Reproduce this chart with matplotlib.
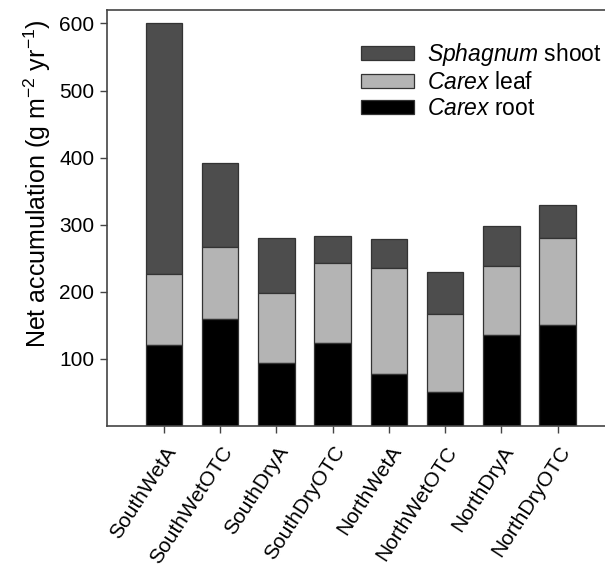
import matplotlib
matplotlib.use("Agg")
import matplotlib.pyplot as plt
import numpy as np

plt.rcParams['font.family'] = ['Liberation Sans', 'DejaVu Sans']
plt.rcParams['mathtext.fontset'] = 'custom'
plt.rcParams['mathtext.rm'] = 'Liberation Sans'
plt.rcParams['mathtext.it'] = 'Liberation Sans:italic'
plt.rcParams['mathtext.bf'] = 'Liberation Sans:bold'
plt.rcParams['axes.unicode_minus'] = False

categories = ["SouthWetA", "SouthWetOTC", "SouthDryA", "SouthDryOTC",
              "NorthWetA", "NorthWetOTC", "NorthDryA", "NorthDryOTC"]
carex_root = [120, 160, 94, 124, 77, 50, 136, 151]
carex_leaf = [107, 107, 104, 119, 158, 117, 102, 129]
sphagnum_shoot = [373, 125, 82, 40, 43, 62, 60, 50]
yticks = [100, 200, 300, 400, 500, 600]

fig = plt.figure(figsize=(6.05, 5.64), dpi=100)
ax = fig.add_axes([107/605, 1 - 426/564, 1 - 107/605 + 0.01, (426 - 10)/564])

x = np.arange(len(categories))
w = 0.65
root = np.array(carex_root)
leaf = np.array(carex_leaf)
sph = np.array(sphagnum_shoot)
edge = '#333333'
b3 = ax.bar(x, sph, w, bottom=root + leaf, color='#4d4d4d', edgecolor=edge, linewidth=0.9)
b2 = ax.bar(x, leaf, w, bottom=root, color='#b4b4b4', edgecolor=edge, linewidth=0.9)
b1 = ax.bar(x, root, w, color='black', edgecolor=edge, linewidth=0.9)

ax.set_xlim(-1.01, 7.95)
ax.set_ylim(0, 620)
ax.set_yticks(yticks)
ax.set_yticklabels([str(v) for v in yticks], fontsize=15)
ax.set_xticks(x)
ax.set_xticklabels(categories, rotation=57, ha='right', rotation_mode='anchor', fontsize=15)
ax.tick_params(axis='both', direction='out', length=5, width=1, color='#444444', pad=4)
ax.tick_params(axis='x', pad=7)
for s in ax.spines.values():
    s.set_color('#444444')
    s.set_linewidth(1.2)

ax.set_ylabel(r'Net accumulation (g m$^{\mathregular{-2}}$ yr$^{\mathregular{-1}}$)',
              fontsize=18)
ax.yaxis.set_label_coords(-0.108, 0.582)

leg = ax.legend([b3, b2, b1],
                [r'$\it{Sphagnum}$ shoot', r'$\it{Carex}$ leaf', r'$\it{Carex}$ root'],
                loc='upper left', bbox_to_anchor=(0.504, 0.925),
                frameon=False, fontsize=16.5, handlelength=2.3, handleheight=0.6,
                handletextpad=0.6, labelspacing=0.13, borderaxespad=0, borderpad=0)

fig.savefig('out.png', dpi=100)
